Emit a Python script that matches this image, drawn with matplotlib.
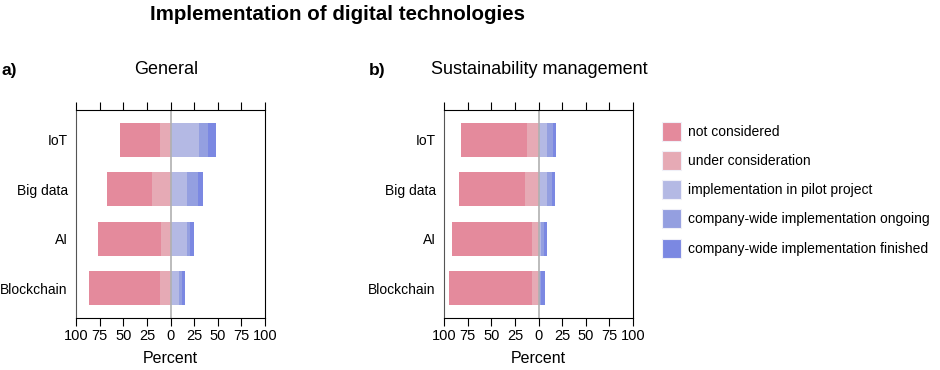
import matplotlib
matplotlib.use("Agg")
import matplotlib.pyplot as plt
from matplotlib.patches import Patch
import numpy as np

plt.rcParams['font.family'] = ['Liberation Sans', 'DejaVu Sans']

techs = ["IoT", "Big data", "AI", "Blockchain"]
levels = ["not considered", "under consideration", "implementation in pilot project",
          "company-wide implementation ongoing", "company-wide implementation finished"]
colors = ["#e48a9c", "#e6aab5", "#b4b9e4", "#949fe0", "#7b88e2"]

# percent per level, order: not, under, pilot, ongoing, finished
general = {
    "not": [42.7, 47.6, 66.3, 75.5],
    "under": [10.6, 19.4, 10.2, 10.6],
    "pilot": [30.0, 17.3, 17.6, 8.5],
    "ongoing": [10.0, 11.6, 3.2, 3.5],
    "finished": [8.3, 5.7, 4.2, 3.2],
}
sustain = {
    "not": [70.0, 69.8, 84.8, 87.7],
    "under": [12.3, 14.4, 6.7, 7.0],
    "pilot": [8.8, 8.8, 2.5, 0.8],
    "ongoing": [6.7, 5.3, 3.5, 1.8],
    "finished": [3.5, 3.2, 3.5, 3.8],
}

fig = plt.figure(figsize=(9.4, 3.7), dpi=100)
W, H = 940, 370

def draw(ax, d):
    y = np.arange(len(techs))
    h = 0.69
    under = np.array(d["under"])
    notc = np.array(d["not"])
    ax.barh(y, -under, height=h, color=colors[1])
    ax.barh(y, -notc, left=-under, height=h, color=colors[0])
    left = np.zeros(len(techs))
    for k, c in zip(["pilot", "ongoing", "finished"], colors[2:]):
        v = np.array(d[k])
        ax.barh(y, v, left=left, height=h, color=c)
        left += v
    ax.axvline(0, color="#b0b0b0", lw=1.2)
    ax.set_xlim(-100, 100)
    ax.set_ylim(3.6, -0.6)
    ax.set_yticks(y)
    ax.set_yticklabels(techs, fontsize=10)
    ax.tick_params(axis="y", length=0, pad=6)
    ticks = [-100, -75, -50, -25, 0, 25, 50, 75, 100]
    ax.set_xticks(ticks)
    ax.set_xticklabels([str(abs(t)) for t in ticks], fontsize=10.5)
    ax.tick_params(axis="x", top=True, direction="out", length=6, pad=2)
    ax.spines["left"].set_color("#555555")
    ax.set_xlabel("Percent", fontsize=11.5, labelpad=6)

ax1 = fig.add_axes([76 / W, 1 - 318 / H, 189 / W, 208 / H])
ax2 = fig.add_axes([444 / W, 1 - 318 / H, 189 / W, 208 / H])
draw(ax1, general)
draw(ax2, sustain)

fig.text(166 / W, 1 - 70 / H, "General", ha="center", va="center", fontsize=13)
fig.text(539 / W, 1 - 70 / H, "Sustainability management", ha="center", va="center", fontsize=13)
fig.text(1 / W, 1 - 70 / H, "a)", ha="left", va="center", fontsize=12.5, fontweight="bold")
fig.text(369 / W, 1 - 70 / H, "b)", ha="left", va="center", fontsize=12.5, fontweight="bold")
fig.text(338 / W, 1 - 15 / H, "Implementation of digital technologies", ha="center", va="center",
         fontsize=14.8, fontweight="bold")

handles = [Patch(facecolor=c, edgecolor="#f0f0f8", lw=0.8, label=l) for c, l in zip(colors, levels)]
fig.legend(handles=handles, loc="upper left", bbox_to_anchor=(649 / W, 1 - 109 / H),
           frameon=False, fontsize=10, handlelength=1.37, handleheight=1.73,
           labelspacing=0.74, handletextpad=0.55)

fig.savefig("out.png", dpi=100)
